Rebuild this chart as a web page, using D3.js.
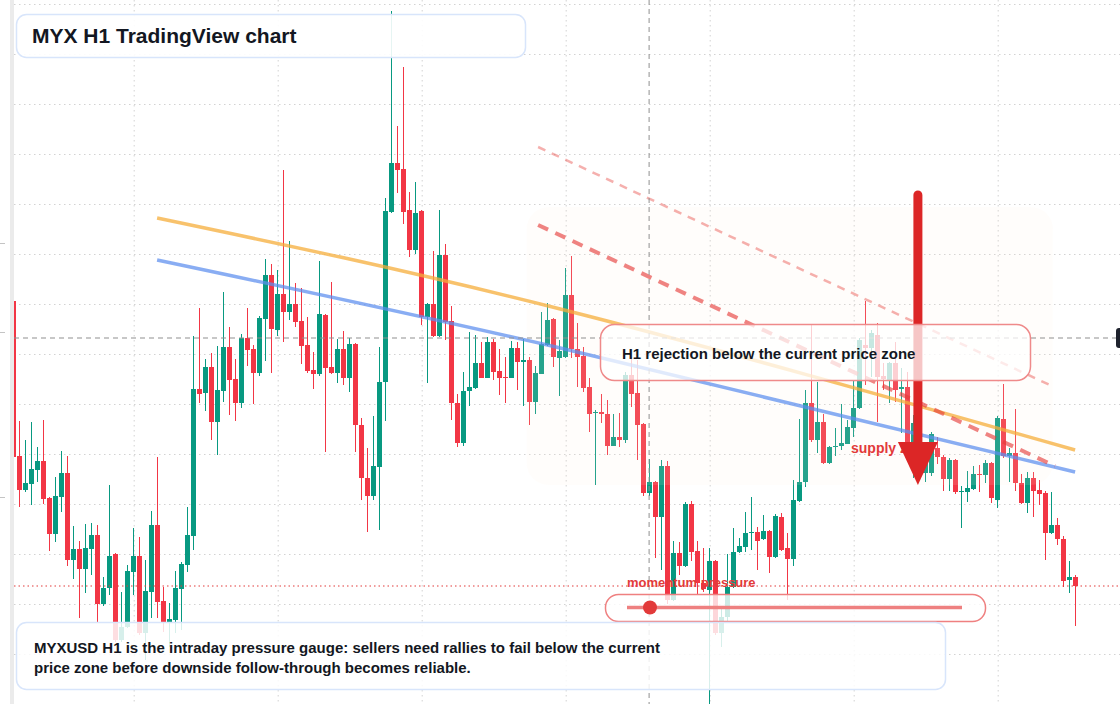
<!DOCTYPE html>
<html><head><meta charset="utf-8">
<script src="https://cdn.jsdelivr.net/npm/d3@7"></script>
<style>html,body{margin:0;padding:0;background:#fff;overflow:hidden}svg{display:block}</style>
</head><body><svg id="c" width="1120" height="704"></svg>
<script>
// ---- data (MYXUSD H1 candles, index 0..177) ----
const open = [0.703,0.548,0.514,0.520,0.534,0.543,0.506,0.470,0.507,0.531,
0.444,0.455,0.435,0.455,0.469,0.400,0.416,0.450,0.364,0.377,
0.432,0.448,0.371,0.412,0.479,0.403,0.382,0.384,0.415,0.439,
0.468,0.615,0.611,0.637,0.582,0.613,0.657,0.625,0.601,0.666,
0.655,0.631,0.685,0.729,0.674,0.710,0.692,0.700,0.683,0.659,
0.634,0.630,0.689,0.637,0.631,0.655,0.626,0.660,0.579,0.526,
0.508,0.537,0.622,0.792,0.841,0.835,0.794,0.754,0.793,0.687,
0.700,0.668,0.749,0.683,0.601,0.561,0.613,0.616,0.641,0.626,
0.662,0.633,0.627,0.626,0.656,0.642,0.644,0.602,0.630,0.659,
0.685,0.646,0.647,0.709,0.655,0.648,0.617,0.591,0.592,0.590,
0.558,0.567,0.564,0.629,0.611,0.580,0.511,0.522,0.487,0.538,
0.404,0.451,0.438,0.500,0.453,0.421,0.414,0.443,0.371,0.387,
0.417,0.452,0.457,0.471,0.472,0.465,0.473,0.447,0.487,0.456,
0.445,0.503,0.522,0.601,0.564,0.582,0.541,0.557,0.558,0.560,
0.576,0.596,0.659,0.656,0.669,0.628,0.624,0.641,0.615,0.617,
0.549,0.581,0.531,0.531,0.556,0.547,0.525,0.544,0.512,0.512,
0.515,0.530,0.529,0.541,0.504,0.585,0.548,0.551,0.521,0.501,
0.526,0.514,0.511,0.471,0.479,0.465,0.424,0.427];
const high = [0.705,0.583,0.564,0.582,0.557,0.584,0.507,0.527,0.553,0.548,
0.478,0.463,0.480,0.481,0.479,0.427,0.519,0.451,0.412,0.439,
0.476,0.467,0.444,0.493,0.547,0.417,0.401,0.433,0.442,0.497,
0.668,0.696,0.645,0.651,0.658,0.712,0.677,0.645,0.670,0.696,
0.659,0.688,0.745,0.740,0.734,0.834,0.763,0.721,0.716,0.687,
0.652,0.743,0.690,0.722,0.665,0.673,0.666,0.661,0.586,0.556,
0.588,0.657,0.806,0.993,0.878,0.937,0.812,0.822,0.794,0.701,
0.753,0.794,0.760,0.698,0.610,0.632,0.672,0.669,0.662,0.667,
0.665,0.655,0.647,0.663,0.662,0.665,0.647,0.638,0.692,0.701,
0.686,0.664,0.736,0.748,0.681,0.657,0.626,0.594,0.610,0.604,
0.590,0.591,0.632,0.647,0.644,0.581,0.545,0.523,0.544,0.543,
0.463,0.462,0.502,0.503,0.463,0.456,0.456,0.444,0.398,0.450,
0.476,0.466,0.492,0.507,0.477,0.489,0.474,0.490,0.491,0.471,
0.524,0.585,0.614,0.679,0.622,0.590,0.558,0.576,0.600,0.584,
0.624,0.666,0.703,0.674,0.681,0.641,0.642,0.662,0.636,0.632,
0.589,0.586,0.559,0.572,0.567,0.549,0.546,0.545,0.518,0.533,
0.538,0.539,0.544,0.542,0.588,0.620,0.556,0.595,0.530,0.532,
0.532,0.524,0.513,0.512,0.486,0.468,0.443,0.429];
const low = [0.545,0.497,0.512,0.499,0.522,0.500,0.453,0.462,0.492,0.438,
0.425,0.386,0.411,0.429,0.382,0.398,0.409,0.362,0.362,0.376,
0.409,0.369,0.344,0.386,0.386,0.372,0.357,0.371,0.374,0.432,
0.454,0.601,0.593,0.564,0.549,0.602,0.589,0.583,0.596,0.638,
0.600,0.628,0.643,0.631,0.668,0.662,0.684,0.677,0.640,0.631,
0.615,0.628,0.552,0.630,0.621,0.619,0.612,0.552,0.504,0.472,
0.504,0.474,0.583,0.791,0.811,0.780,0.747,0.750,0.679,0.621,
0.667,0.667,0.664,0.584,0.557,0.558,0.598,0.615,0.626,0.626,
0.624,0.609,0.601,0.626,0.614,0.598,0.579,0.590,0.630,0.658,
0.637,0.608,0.646,0.646,0.617,0.612,0.572,0.519,0.581,0.549,
0.558,0.557,0.561,0.597,0.544,0.508,0.508,0.446,0.434,0.400,
0.403,0.429,0.437,0.443,0.410,0.412,0.300,0.369,0.357,0.382,
0.416,0.451,0.452,0.454,0.434,0.464,0.431,0.446,0.453,0.404,
0.438,0.502,0.517,0.562,0.551,0.540,0.540,0.548,0.554,0.560,
0.567,0.595,0.619,0.627,0.582,0.614,0.601,0.602,0.571,0.559,
0.526,0.524,0.522,0.528,0.540,0.513,0.513,0.510,0.476,0.502,
0.514,0.512,0.521,0.501,0.496,0.546,0.522,0.513,0.500,0.491,
0.487,0.499,0.444,0.470,0.459,0.417,0.411,0.378];
const close = [0.547,0.514,0.521,0.535,0.543,0.505,0.470,0.508,0.531,0.444,
0.455,0.435,0.456,0.469,0.400,0.416,0.448,0.364,0.377,0.433,
0.448,0.371,0.413,0.479,0.402,0.382,0.385,0.416,0.440,0.469,
0.615,0.610,0.637,0.582,0.614,0.657,0.624,0.601,0.666,0.654,
0.631,0.686,0.729,0.675,0.710,0.692,0.700,0.682,0.658,0.633,
0.630,0.690,0.636,0.631,0.655,0.626,0.660,0.579,0.526,0.508,
0.538,0.622,0.793,0.841,0.834,0.792,0.754,0.791,0.687,0.700,
0.668,0.749,0.682,0.601,0.561,0.613,0.617,0.641,0.626,0.662,
0.632,0.626,0.626,0.656,0.642,0.644,0.602,0.631,0.660,0.684,
0.647,0.653,0.709,0.655,0.647,0.616,0.590,0.592,0.590,0.558,
0.567,0.564,0.629,0.610,0.579,0.511,0.522,0.487,0.538,0.404,
0.451,0.438,0.500,0.452,0.421,0.415,0.443,0.371,0.387,0.417,
0.452,0.458,0.471,0.472,0.463,0.473,0.447,0.488,0.454,0.445,
0.504,0.522,0.601,0.564,0.582,0.541,0.557,0.558,0.561,0.577,
0.596,0.664,0.656,0.671,0.627,0.625,0.641,0.614,0.617,0.561,
0.581,0.534,0.551,0.570,0.547,0.525,0.544,0.512,0.513,0.516,
0.530,0.529,0.541,0.506,0.586,0.548,0.551,0.521,0.501,0.526,
0.513,0.510,0.471,0.479,0.465,0.423,0.427,0.418];

const priceTicks = [1.00,0.95,0.90,0.85,0.80,0.75,0.70,0.65,0.60,0.55,0.50,0.45,0.40,0.35,0.30];
const timeTicks = [20,44,68,92,116,140,164];

// trend / annotation anchors in (bar index, price)
const resistLine = [[23.9,0.786],[91.1,0.695],[176.9,0.554]];
const supportLine = [[23.9,0.744],[91.1,0.656],[176.9,0.532]];
const dashMain = [[87.4,0.779],[173.55,0.538]];
const dashOuter = [[87.4,0.857],[173.05,0.618]];
const zoneBox = {i0:85.5, i1:173.2, p0:0.797, p1:0.519};
const arrowAt = {i:150.7, top:0.809, head:0.562, tip:0.519};
const crossAt = {i:105.9, p:0.666};

const titleText = "MYX H1 TradingView chart";
const noteLines = ["MYXUSD H1 is the intraday pressure gauge: sellers need rallies to fail below the current",
                   "price zone before downside follow-through becomes reliable."];
const calloutText = "H1 rejection below the current price zone";
const supplyText = "supply zone";
const gaugeText = "momentum pressure";

// ---- drawing ----
const W = 1120, H = 704;
const UP = "#089981", DN = "#f23645", INK = "#131722", RED = "#e23a3a";
const FONT = "'Liberation Sans', Arial, sans-serif";
const x = d3.scaleLinear().domain([0,177]).range([13.7,1075.7]);
const y = d3.scaleLinear().domain([0.300,1.004]).range([704,0]);

const svg = d3.select("#c");
svg.append("rect").attr("width",W).attr("height",H).attr("fill","#fff");
const defs = svg.append("defs");
defs.append("clipPath").attr("id","clip").append("rect").attr("x",14).attr("y",0).attr("width",W-14).attr("height",H);

// left strip and stub ticks
svg.append("rect").attr("x",10).attr("y",0).attr("width",4).attr("height",H).attr("fill","#ebebeb");
svg.selectAll("line.stub").data([243,332,497]).join("line").attr("class","stub")
  .attr("x1",0).attr("x2",5).attr("y1",d=>d+0.5).attr("y2",d=>d+0.5).attr("stroke","#c4c4c4");

const plot = svg.append("g").attr("clip-path","url(#clip)");

// grid through axes
plot.append("g").attr("transform","translate(14,0)")
  .call(d3.axisRight(y).tickValues(priceTicks).tickSize(W).tickFormat(""))
  .call(g=>g.select(".domain").remove())
  .call(g=>g.selectAll("line").attr("stroke","#d2d2d2").attr("stroke-dasharray","1.5,3.5"));
plot.append("g").attr("transform","translate(0,0)")
  .call(d3.axisBottom(x).tickValues(timeTicks).tickSize(H).tickFormat(""))
  .call(g=>g.select(".domain").remove())
  .call(g=>g.selectAll("line").attr("stroke","#d2d2d2").attr("stroke-dasharray","1.5,3.5"));

// candles
const data = open.map((o,i)=>({i,o,h:high[i],l:low[i],c:close[i]}));
const cg = plot.append("g").attr("shape-rendering","crispEdges");
cg.selectAll("rect.w").data(data).join("rect").attr("class","w")
  .attr("x",d=>Math.floor(x(d.i))).attr("width",1)
  .attr("y",d=>y(d.h)).attr("height",d=>Math.max(1,y(d.l)-y(d.h)))
  .attr("fill",d=>d.c>=d.o?UP:DN);
cg.selectAll("rect.b").data(data).join("rect").attr("class","b")
  .attr("x",d=>Math.floor(x(d.i))-2).attr("width",5)
  .attr("y",d=>y(Math.max(d.o,d.c))).attr("height",d=>Math.max(1,Math.abs(y(d.o)-y(d.c))))
  .attr("fill",d=>d.c>=d.o?UP:DN);

// shaded zone (faint tint over candles)
plot.append("rect").attr("x",x(zoneBox.i0)).attr("y",y(zoneBox.p0))
  .attr("width",x(zoneBox.i1)-x(zoneBox.i0)).attr("height",y(zoneBox.p1)-y(zoneBox.p0))
  .attr("rx",22).attr("fill","#fbeee2").attr("opacity",0.12);

// price line (last close)
plot.append("line").attr("x1",14).attr("x2",W).attr("y1",y(close[close.length-1])).attr("y2",y(close[close.length-1]))
  .attr("stroke",RED).attr("stroke-width",1.2).attr("stroke-dasharray","1.5,3");

// trend lines
const ln = d3.line().x(d=>x(d[0])).y(d=>y(d[1])).curve(d3.curveNatural);
plot.append("path").attr("d",ln(resistLine)).attr("fill","none").attr("stroke","#f6ad3b").attr("stroke-width",3.5).attr("opacity",0.75);
plot.append("path").attr("d",ln(supportLine)).attr("fill","none").attr("stroke","#5b8def").attr("stroke-width",3.5).attr("opacity",0.72);
const sl = d3.line().x(d=>x(d[0])).y(d=>y(d[1]));
plot.append("path").attr("d",sl(dashOuter)).attr("fill","none").attr("stroke","#e53935").attr("stroke-width",2.5).attr("stroke-dasharray","8,7").attr("opacity",0.4);
plot.append("path").attr("d",sl(dashMain)).attr("fill","none").attr("stroke","#e53935").attr("stroke-width",4).attr("stroke-dasharray","11,8").attr("opacity",0.62);

// crosshair
plot.append("line").attr("x1",x(crossAt.i)).attr("x2",x(crossAt.i)).attr("y1",0).attr("y2",H)
  .attr("stroke","#8f8f8f").attr("stroke-dasharray","5,4");
plot.append("line").attr("x1",14).attr("x2",W).attr("y1",y(crossAt.p)).attr("y2",y(crossAt.p))
  .attr("stroke","#8f8f8f").attr("stroke-dasharray","5,4");

// supply text
svg.append("text").attr("x",851).attr("y",453).attr("font-family",FONT).attr("font-weight","bold")
  .attr("font-size",14).attr("fill",RED).text(supplyText);

// arrow
const ax = x(arrowAt.i);
svg.append("line").attr("x1",ax).attr("x2",ax).attr("y1",y(arrowAt.top)).attr("y2",y(arrowAt.head)+6)
  .attr("stroke","#dc2626").attr("stroke-width",9).attr("stroke-linecap","round");
svg.append("path").attr("d",`M${ax-20},${y(arrowAt.head)}L${ax+20},${y(arrowAt.head)}L${ax},${y(arrowAt.tip)}Z`)
  .attr("fill","#dc2626");

// callout box
svg.append("rect").attr("x",600.5).attr("y",324.5).attr("width",430).attr("height",56).attr("rx",14)
  .attr("fill","#fff").attr("fill-opacity",0.74).attr("stroke","#ef8a8a").attr("stroke-width",1.5);
svg.append("text").attr("x",622).attr("y",359).attr("font-family",FONT).attr("font-weight","bold")
  .attr("font-size",15).attr("fill",INK).text(calloutText);

// momentum gauge
svg.append("text").attr("x",627).attr("y",587).attr("font-family",FONT).attr("font-weight","bold")
  .attr("font-size",13).attr("fill",RED).text(gaugeText);
svg.append("rect").attr("x",605.5).attr("y",594.5).attr("width",380).attr("height",27).attr("rx",13)
  .attr("fill","#fff").attr("fill-opacity",0.8).attr("stroke","#ef8080").attr("stroke-width",1.5);
svg.append("line").attr("x1",627).attr("x2",962).attr("y1",607.5).attr("y2",607.5)
  .attr("stroke","#ee8080").attr("stroke-width",3.5);
svg.append("circle").attr("cx",650).attr("cy",607.5).attr("r",7).attr("fill","#e23a3a");

// bottom note box
svg.append("rect").attr("x",16.5).attr("y",622.5).attr("width",929).attr("height",67).attr("rx",10)
  .attr("fill","#fff").attr("fill-opacity",0.84).attr("stroke","#d8e5fb").attr("stroke-width",1.5);
svg.selectAll("text.note").data(noteLines).join("text").attr("class","note")
  .attr("x",34).attr("y",(d,k)=>653+k*19.5).attr("font-family",FONT).attr("font-weight","bold")
  .attr("font-size",15).attr("fill",INK).text(d=>d);

// title box
svg.append("rect").attr("x",16.5).attr("y",14.5).attr("width",509).attr("height",43).attr("rx",10)
  .attr("fill","#fff").attr("fill-opacity",0.9).attr("stroke","#d8e5fb").attr("stroke-width",1.5);
svg.append("text").attr("x",32).attr("y",43).attr("font-family",FONT).attr("font-weight","bold")
  .attr("font-size",21).attr("fill",INK).text(titleText);

// right edge crosshair label stub
svg.append("rect").attr("x",1116).attr("y",328).attr("width",12).attr("height",20).attr("rx",3).attr("fill","#1e222d");
</script></body></html>
